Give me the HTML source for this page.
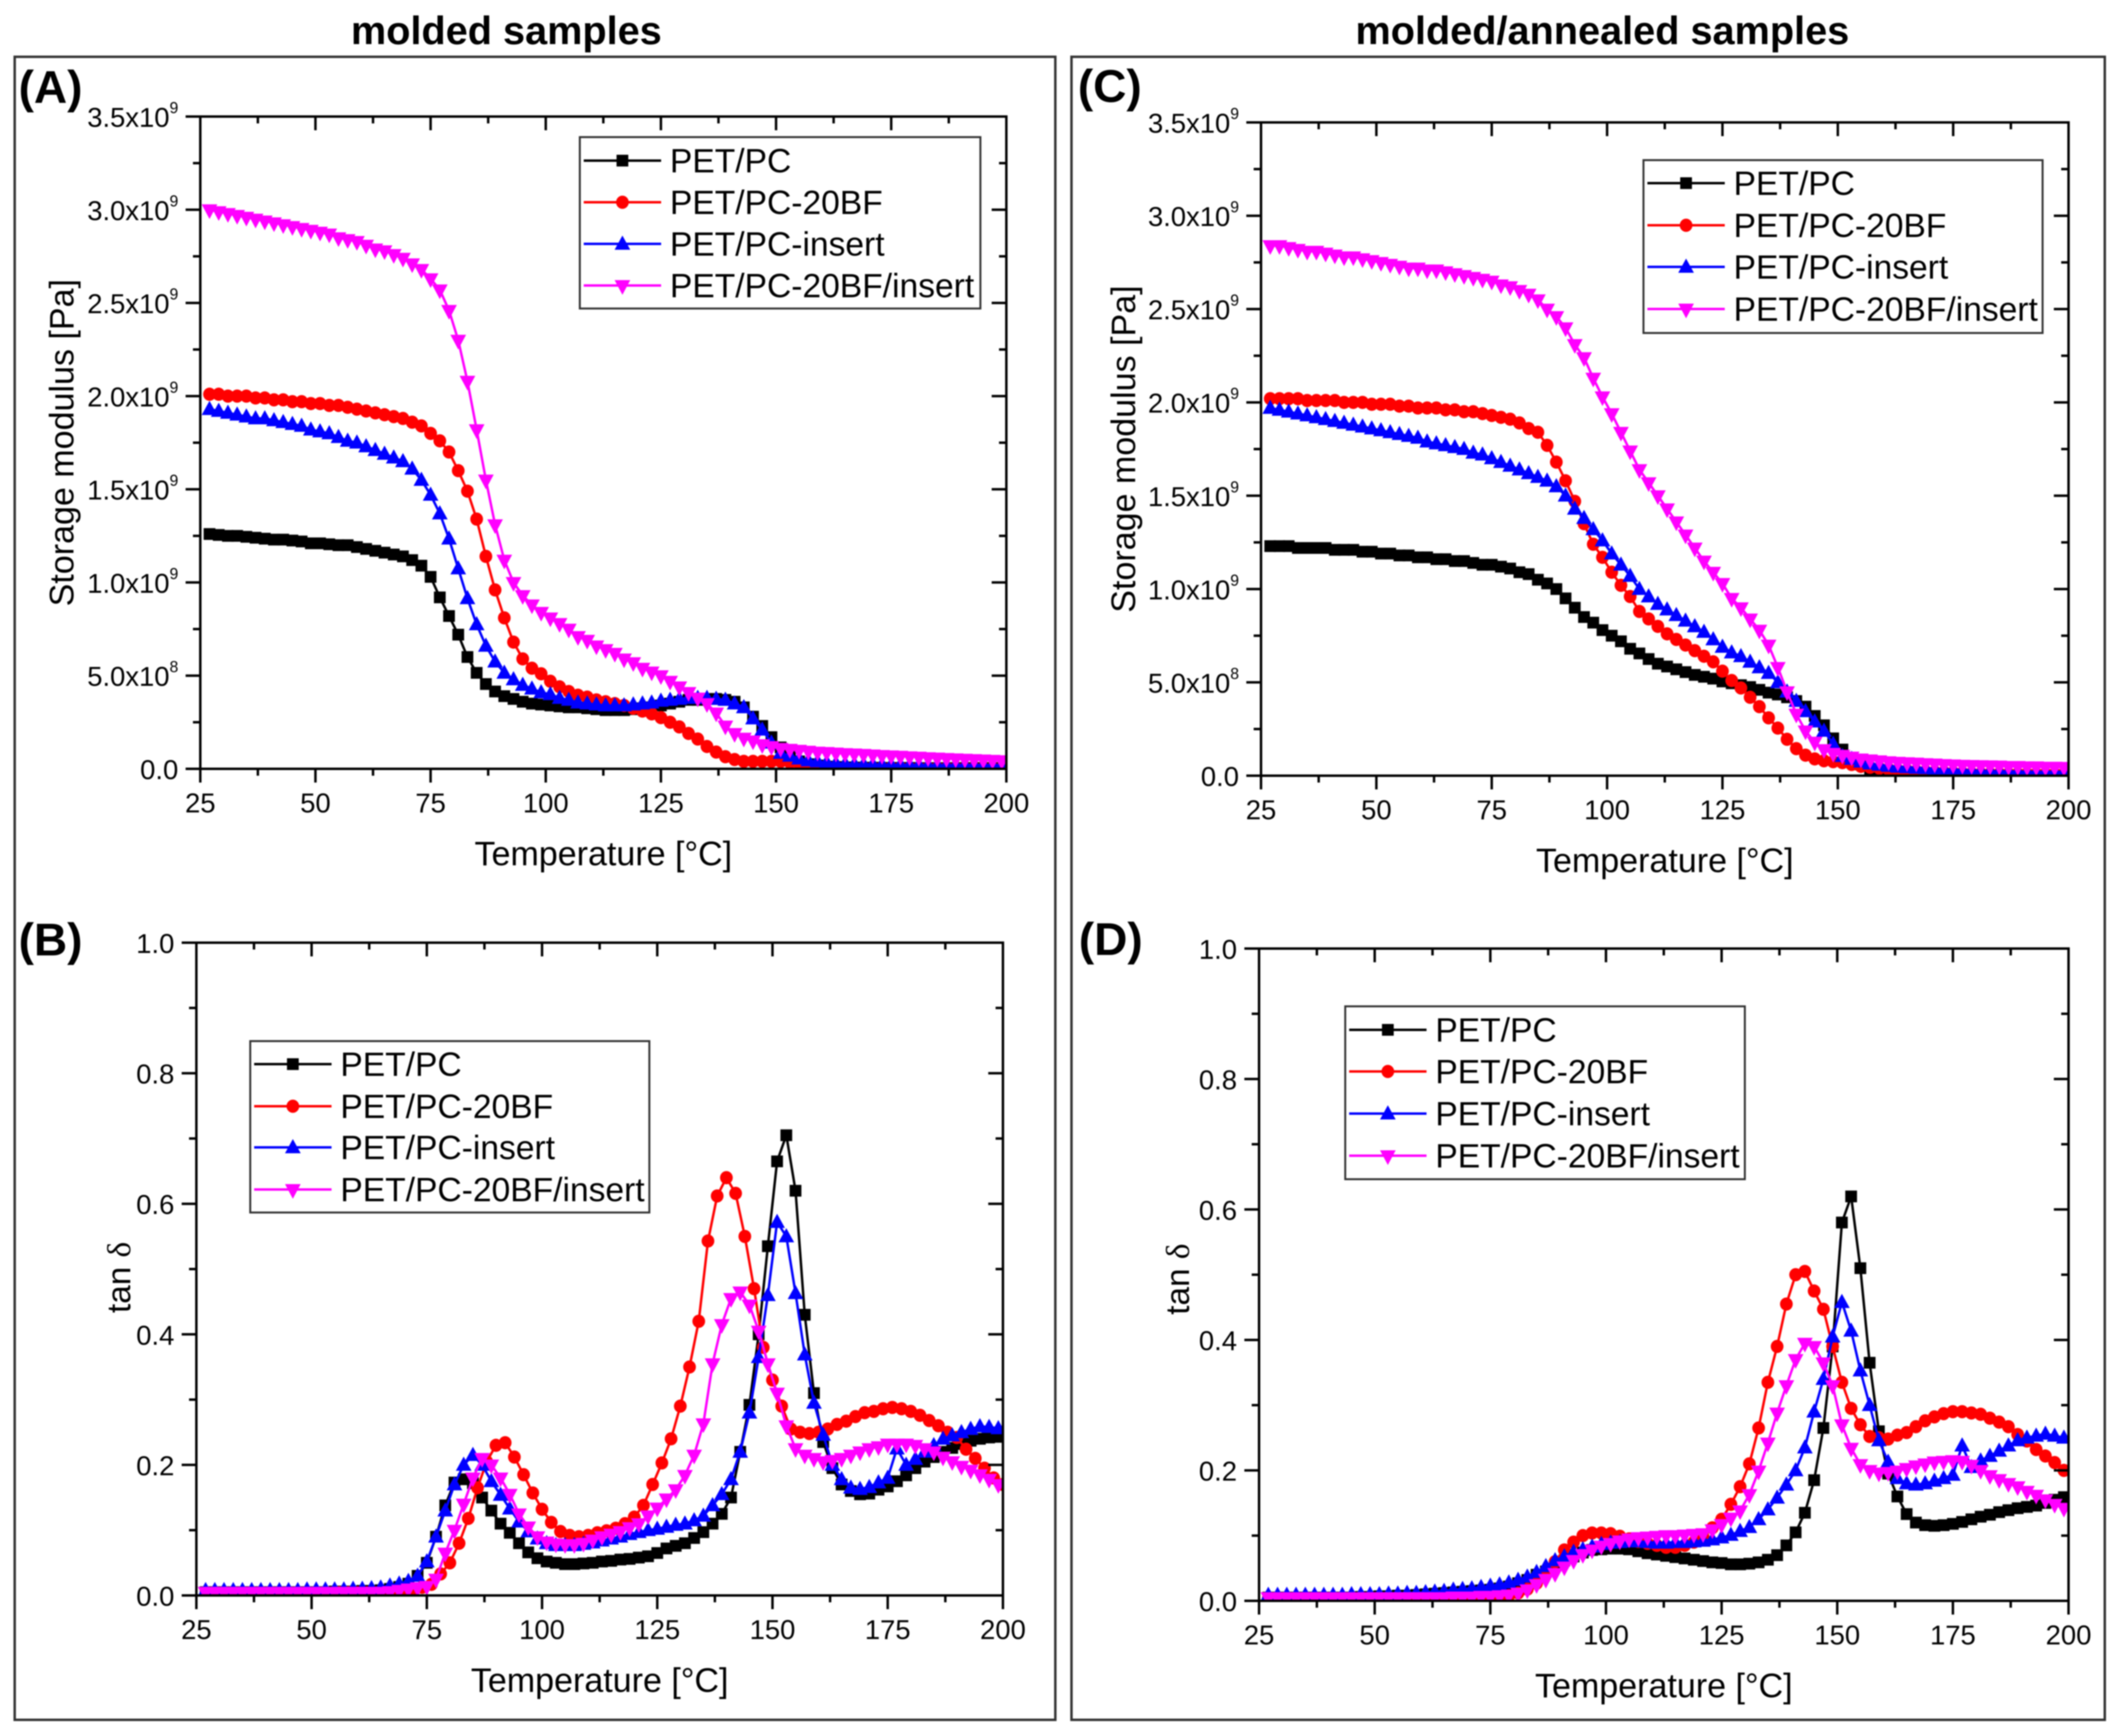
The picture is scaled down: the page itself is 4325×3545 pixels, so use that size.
<!DOCTYPE html>
<html lang="en">
<head>
<meta charset="utf-8">
<title>Storage modulus and tan delta of molded and molded/annealed samples</title>
<style>
html,body{margin:0;padding:0;background:#fff}
svg{display:block;font-family:"Liberation Sans",Arial,sans-serif;filter:blur(1.2px)}
</style>
</head>
<body>
<svg id="figure" xmlns="http://www.w3.org/2000/svg" width="4325" height="3545" viewBox="0 0 4325 3545">
<rect x="0" y="0" width="4325" height="3545" fill="#ffffff"/>
<rect x="30" y="116" width="2125" height="3396" fill="none" stroke="#333" stroke-width="5"/>
<rect x="2188" y="116" width="2110" height="3396" fill="none" stroke="#333" stroke-width="5"/>
<text x="1034" y="90" text-anchor="middle" font-size="81" font-weight="bold">molded samples</text>
<text x="3272" y="90" text-anchor="middle" font-size="81" font-weight="bold">molded/annealed samples</text>
<text x="38" y="210" font-size="94" font-weight="bold">(A)</text>
<text x="38" y="1951" font-size="94" font-weight="bold">(B)</text>
<text x="2201" y="208" font-size="94" font-weight="bold">(C)</text>
<text x="2203" y="1950" font-size="94" font-weight="bold">(D)</text>
<g id="charts"></g>
</svg>
<script>
const temperatures = [
27,29,31,33,35,37,39,41,43,45,
47,49,51,53,55,57,59,61,63,65,
67,69,71,73,75,77,79,81,83,85,
87,89,91,93,95,97,99,101,103,105,
107,109,111,113,115,117,119,121,123,125,
127,129,131,133,135,137,139,141,143,145,
147,149,151,153,155,157,159,161,163,165,
167,169,171,173,175,177,179,181,183,185,
187,189,191,193,195,197,199];

const temperaturesEven = [
28,30,32,34,36,38,40,42,44,46,
48,50,52,54,56,58,60,62,64,66,
68,70,72,74,76,78,80,82,84,86,
88,90,92,94,96,98,100,102,104,106,
108,110,112,114,116,118,120,122,124,126,
128,130,132,134,136,138,140,142,144,146,
148,150,152,154,156,158,160,162,164,166,
168,170,172,174,176,178,180,182,184,186,
188,190,192,194,196,198,200];

const seriesNames = ['PET/PC','PET/PC-20BF','PET/PC-insert','PET/PC-20BF/insert'];

/* Panel A: storage modulus, molded, in units of 1e9 Pa */
const aBlack = [
1.26,1.255,1.25,1.25,1.245,1.24,1.235,1.23,1.23,1.225,
1.22,1.21,1.21,1.205,1.20,1.20,1.19,1.18,1.17,1.16,
1.15,1.14,1.12,1.09,1.03,.92,.82,.72,.60,.515,
.455,.415,.39,.375,.36,.35,.345,.34,.335,.33,
.33,.325,.32,.315,.315,.315,.32,.325,.33,.34,
.35,.36,.37,.37,.375,.375,.37,.36,.33,.28,
.23,.17,.115,.07,.04,.025,.018,.012,.01,.008,
.007,.006,.006,.005,.005,.005,.005,.004,.004,.004,
.004,.004,.004,.004,.004,.004,.004];
const aRed = [
2.01,2.01,2.00,2.00,2.00,1.99,1.99,1.98,1.98,1.97,
1.97,1.96,1.96,1.95,1.95,1.94,1.93,1.92,1.91,1.90,
1.89,1.88,1.86,1.84,1.80,1.76,1.70,1.60,1.49,1.34,
1.14,.96,.81,.68,.59,.54,.51,.47,.44,.415,
.395,.385,.37,.36,.35,.34,.325,.31,.295,.275,
.25,.225,.19,.16,.12,.09,.065,.05,.04,.04,
.04,.04,.04,.035,.03,.02,.015,.012,.01,.008,
.006,.006,.005,.005,.005,.005,.004,.004,.004,.004,
.004,.004,.003,.003,.003,.003,.003];
const aBlue = [
1.93,1.92,1.91,1.90,1.89,1.88,1.88,1.87,1.86,1.85,
1.84,1.82,1.81,1.80,1.78,1.76,1.75,1.73,1.71,1.69,
1.67,1.65,1.61,1.55,1.47,1.37,1.235,1.075,.915,.775,
.66,.575,.515,.48,.45,.43,.41,.40,.38,.37,
.355,.35,.345,.34,.34,.34,.345,.35,.355,.365,
.37,.375,.38,.38,.38,.375,.37,.35,.33,.27,
.21,.14,.085,.07,.055,.045,.04,.035,.03,.028,
.026,.025,.024,.023,.022,.022,.021,.021,.02,.02,
.02,.02,.02,.02,.02,.02,.02];
const aMagenta = [
3.00,2.99,2.98,2.97,2.96,2.95,2.94,2.93,2.92,2.91,
2.90,2.89,2.88,2.87,2.85,2.84,2.83,2.81,2.79,2.78,
2.76,2.74,2.71,2.68,2.63,2.57,2.46,2.30,2.08,1.82,
1.55,1.31,1.12,1.00,.93,.88,.84,.81,.78,.75,
.71,.69,.66,.64,.62,.59,.57,.54,.52,.50,
.47,.44,.41,.38,.35,.30,.23,.19,.165,.15,
.13,.12,.11,.105,.10,.095,.09,.088,.085,.082,
.08,.078,.075,.072,.07,.068,.065,.063,.06,.058,
.056,.054,.052,.05,.048,.046,.044];

/* Panel B: tan delta, molded */
const bBlack = [
.005,.005,.005,.005,.005,.005,.005,.005,.005,.005,
.005,.005,.005,.005,.006,.006,.006,.007,.007,.008,
.01,.013,.018,.03,.05,.09,.138,.173,.178,.172,
.15,.13,.11,.096,.08,.066,.057,.052,.05,.048,
.048,.049,.05,.052,.053,.055,.056,.058,.06,.065,
.072,.076,.08,.088,.097,.11,.125,.15,.22,.292,
.40,.535,.665,.705,.62,.43,.31,.235,.195,.17,
.16,.155,.156,.162,.167,.175,.184,.195,.205,.212,
.22,.226,.232,.237,.24,.242,.243];
const bRed = [
.003,.003,.003,.003,.003,.003,.003,.003,.003,.003,
.003,.003,.003,.003,.004,.004,.004,.004,.004,.004,
.005,.007,.01,.0125,.017,.033,.05,.08,.118,.165,
.205,.23,.234,.212,.185,.157,.132,.112,.098,.092,
.09,.092,.096,.099,.103,.11,.12,.138,.17,.203,
.24,.29,.35,.42,.543,.612,.64,.616,.55,.47,
.38,.33,.29,.255,.25,.248,.25,.255,.262,.267,
.274,.28,.282,.286,.288,.286,.282,.276,.268,.26,
.25,.242,.224,.21,.195,.18,.17];
const bBlue = [
.008,.008,.008,.008,.008,.008,.008,.008,.008,.008,
.008,.009,.009,.009,.009,.009,.01,.01,.011,.012,
.015,.018,.022,.03,.052,.09,.13,.17,.20,.215,
.20,.175,.154,.133,.113,.098,.087,.08,.077,.077,
.077,.079,.081,.084,.087,.09,.094,.097,.10,.102,
.105,.108,.11,.115,.122,.138,.155,.178,.22,.28,
.365,.46,.572,.55,.463,.369,.295,.246,.20,.178,
.165,.163,.166,.173,.18,.225,.20,.209,.22,.23,
.24,.245,.25,.255,.259,.258,.256];
const bMagenta = [
.005,.005,.005,.005,.005,.005,.005,.005,.005,.005,
.005,.005,.005,.005,.005,.005,.005,.005,.005,.005,
.006,.008,.01,.012,.014,.025,.065,.10,.14,.18,
.21,.20,.18,.155,.125,.105,.09,.082,.079,.078,
.078,.08,.085,.09,.094,.098,.104,.11,.122,.134,
.148,.162,.184,.215,.263,.355,.415,.455,.465,.445,
.405,.355,.31,.26,.225,.215,.21,.205,.207,.21,
.215,.22,.225,.228,.232,.232,.232,.23,.225,.22,
.212,.205,.198,.192,.185,.178,.17];

/* Panel C: storage modulus, molded/annealed, in units of 1e9 Pa */
const cBlack = [
1.23,1.23,1.23,1.22,1.22,1.22,1.22,1.21,1.21,1.21,
1.20,1.20,1.19,1.19,1.18,1.18,1.17,1.17,1.16,1.16,
1.15,1.15,1.14,1.13,1.13,1.12,1.11,1.09,1.08,1.05,
1.03,1.00,.95,.90,.85,.82,.78,.75,.72,.68,
.655,.625,.60,.585,.57,.555,.54,.53,.52,.505,
.495,.485,.475,.46,.445,.435,.42,.40,.37,.32,
.27,.20,.14,.09,.06,.03,.02,.015,.012,.01,
.008,.007,.006,.005,.005,.004,.004,.004,.003,.003,
.003,.003,.003,.003,.003,.003,.003];
const cRed = [
2.02,2.02,2.02,2.02,2.01,2.01,2.01,2.01,2.00,2.00,
2.00,1.99,1.99,1.99,1.98,1.98,1.97,1.97,1.97,1.96,
1.96,1.95,1.95,1.94,1.93,1.92,1.91,1.89,1.86,1.84,
1.77,1.68,1.58,1.47,1.35,1.24,1.17,1.09,1.02,.96,
.88,.84,.80,.76,.73,.70,.67,.64,.61,.56,
.51,.47,.42,.37,.31,.255,.195,.145,.11,.09,
.08,.075,.07,.06,.05,.045,.04,.035,.03,.028,
.025,.022,.02,.018,.016,.014,.012,.011,.01,.01,
.009,.009,.009,.008,.008,.008,.008];
const cBlue = [
1.97,1.96,1.95,1.94,1.93,1.92,1.91,1.90,1.89,1.88,
1.87,1.86,1.85,1.84,1.83,1.82,1.81,1.79,1.78,1.77,
1.76,1.75,1.73,1.72,1.70,1.68,1.66,1.64,1.62,1.60,
1.58,1.55,1.50,1.43,1.38,1.32,1.26,1.19,1.13,1.07,
1.00,.96,.92,.89,.86,.83,.80,.77,.73,.69,
.66,.64,.61,.58,.55,.50,.45,.40,.345,.29,
.24,.17,.105,.09,.075,.065,.058,.052,.048,.045,
.042,.04,.036,.034,.032,.03,.028,.026,.025,.024,
.023,.022,.021,.02,.02,.02,.02];
const cMagenta = [
2.84,2.84,2.83,2.82,2.81,2.81,2.80,2.79,2.78,2.78,
2.77,2.76,2.75,2.74,2.73,2.72,2.72,2.71,2.71,2.70,
2.69,2.68,2.67,2.66,2.65,2.63,2.62,2.60,2.58,2.55,
2.50,2.46,2.40,2.31,2.24,2.13,2.03,1.94,1.84,1.74,
1.64,1.57,1.50,1.43,1.36,1.29,1.22,1.15,1.09,1.03,
.95,.90,.84,.78,.70,.58,.45,.33,.24,.18,
.14,.12,.11,.10,.09,.085,.08,.075,.072,.07,
.068,.065,.063,.06,.058,.056,.055,.054,.053,.052,
.05,.05,.048,.048,.046,.046,.045];

/* Panel D: tan delta, molded/annealed */
const dBlack = [
.005,.005,.005,.005,.005,.005,.005,.005,.005,.005,
.006,.006,.007,.007,.008,.008,.009,.01,.011,.012,
.013,.014,.015,.016,.017,.019,.022,.027,.032,.04,
.045,.054,.062,.068,.074,.078,.079,.08,.08,.079,
.076,.073,.071,.069,.067,.065,.063,.061,.059,.058,
.056,.056,.057,.059,.063,.07,.085,.105,.135,.185,
.265,.39,.58,.62,.51,.365,.26,.195,.16,.133,
.12,.116,.115,.116,.118,.121,.125,.129,.132,.136,
.139,.142,.144,.146,.15,.155,.159];
const dRed = [
.004,.004,.004,.004,.004,.004,.004,.004,.004,.004,
.004,.004,.004,.004,.004,.004,.004,.004,.004,.004,
.004,.004,.005,.005,.005,.006,.008,.012,.018,.027,
.042,.06,.078,.09,.10,.104,.104,.103,.099,.095,
.091,.088,.085,.082,.082,.085,.09,.098,.112,.125,
.148,.175,.21,.265,.335,.39,.455,.50,.505,.475,
.447,.39,.335,.295,.27,.252,.25,.248,.254,.258,
.267,.276,.282,.287,.29,.29,.288,.286,.28,.274,
.267,.255,.245,.232,.222,.212,.20];
const dBlue = [
.009,.009,.009,.009,.009,.009,.009,.009,.009,.01,
.01,.01,.01,.011,.011,.012,.012,.013,.014,.015,
.017,.018,.019,.021,.023,.025,.028,.032,.037,.044,
.053,.062,.068,.075,.079,.083,.087,.089,.09,.091,
.091,.09,.089,.089,.09,.09,.091,.092,.094,.097,
.101,.107,.113,.125,.14,.158,.178,.20,.235,.29,
.34,.405,.458,.414,.353,.30,.246,.213,.188,.18,
.178,.18,.184,.188,.193,.238,.205,.215,.222,.23,
.238,.246,.25,.253,.256,.253,.25];
const dMagenta = [
.005,.005,.005,.005,.005,.005,.005,.005,.005,.005,
.005,.005,.005,.005,.005,.005,.005,.005,.005,.005,
.006,.006,.006,.007,.007,.008,.009,.012,.017,.025,
.033,.042,.052,.062,.071,.078,.084,.088,.092,.095,
.097,.098,.099,.10,.10,.101,.102,.103,.109,.117,
.127,.138,.163,.199,.242,.288,.33,.37,.395,.39,
.365,.33,.27,.234,.209,.20,.196,.197,.199,.203,
.207,.21,.213,.214,.215,.214,.208,.20,.192,.186,
.18,.175,.168,.162,.155,.148,.142];

/* Axis ticks */
const xMajorTicks = [25,50,75,100,125,150,175,200];
const xMinorTicks = [37.5,62.5,87.5,112.5,137.5,162.5,187.5];
const storageMajorTicks = [0,0.5,1,1.5,2,2.5,3,3.5];
const storageMinorTicks = [0.25,0.75,1.25,1.75,2.25,2.75,3.25];
const storageTickText = ['0.0','5.0x10','1.0x10','1.5x10','2.0x10','2.5x10','3.0x10','3.5x10'];
const storageTickPower = ['','8','9','9','9','9','9','9'];
const tanMajorTicks = [0,0.2,0.4,0.6,0.8,1];
const tanMinorTicks = [0.1,0.3,0.5,0.7,0.9];
const tanTickText = ['0.0','0.2','0.4','0.6','0.8','1.0'];
const tanTickPower = ['','','','','',''];

const NS = 'http://www.w3.org/2000/svg';
const chartsRoot = document.getElementById('charts');
const seriesColors = ['#000000','#ff0000','#0000ff','#ff00ff'];
const seriesSlugs = ['pet-pc','pet-pc-20bf','pet-pc-insert','pet-pc-20bf-insert'];

function make(tag, attrs, parent) {
  const el = document.createElementNS(NS, tag);
  for (const k in attrs) el.setAttribute(k, attrs[k]);
  parent.appendChild(el);
  return el;
}

function drawMarker(kind, cx, cy, color, parent, slug) {
  let el;
  if (kind === 0) {
    el = make('rect', {x: cx - 12, y: cy - 12, width: 24, height: 24, fill: color}, parent);
  } else if (kind === 1) {
    el = make('ellipse', {cx: cx, cy: cy, rx: 13, ry: 13.5, fill: color}, parent);
  } else if (kind === 2) {
    el = make('polygon', {points: (cx) + ',' + (cy - 17) + ' ' + (cx + 16) + ',' + (cy + 12) + ' ' + (cx - 16) + ',' + (cy + 12), fill: color}, parent);
  } else {
    el = make('polygon', {points: (cx - 16) + ',' + (cy - 11) + ' ' + (cx + 16) + ',' + (cy - 11) + ' ' + (cx) + ',' + (cy + 19), fill: color}, parent);
  }
  
  
  return el;
}

function drawPanel(p) {
  const g = make('g', {}, chartsRoot);
  
  
  const xScale = t => p.x0 + (t - 25) * (p.x1 - p.x0) / 175;
  const yScale = v => p.yb - v * (p.yb - p.yt) / p.yMax;

  const clipId = 'clip-' + p.id;
  const defs = make('defs', {}, g);
  const cp = make('clipPath', {id: clipId}, defs);
  make('rect', {x: p.x0, y: p.yt, width: p.x1 - p.x0, height: p.yb - p.yt}, cp);

  const plot = make('g', {'clip-path': 'url(#' + clipId + ')'}, g);
  
  
  p.series.forEach((vals, i) => {
    const temps = p.seriesTemps[i];
    const sg = make('g', {}, plot);
    
    
    const pts = vals.map((v, j) => xScale(temps[j]).toFixed(1) + ',' + yScale(v).toFixed(1)).join(' ');
    const line = make('polyline', {points: pts, fill: 'none', stroke: seriesColors[i], 'stroke-width': 5, 'stroke-linejoin': 'round'}, sg);
    
    
    vals.forEach((v, j) => {
      drawMarker(i, xScale(temps[j]), yScale(v), seriesColors[i], sg, seriesSlugs[i]);
    });
  });

  const axes = make('g', {stroke: '#000', 'stroke-width': 5, fill: 'none'}, g);
  
  
  const box = make('rect', {x: p.x0, y: p.yt, width: p.x1 - p.x0, height: p.yb - p.yt}, axes);
  
  

  function xTick(t, len) {
    const x = xScale(t);
    make('line', {x1: x, x2: x, y1: p.yb, y2: p.yb + len}, axes);
    make('line', {x1: x, x2: x, y1: p.yt, y2: p.yt + len}, axes);
  }
  function yTick(v, len) {
    const y = yScale(v);
    make('line', {x1: p.x0, x2: p.x0 - len, y1: y, y2: y}, axes);
    make('line', {x1: p.x1, x2: p.x1 - len, y1: y, y2: y}, axes);
  }
  xMajorTicks.forEach(t => xTick(t, 28));
  xMinorTicks.forEach(t => xTick(t, 14));
  p.yMajor.forEach(v => yTick(v, 30));
  p.yMinor.forEach(v => yTick(v, 15));

  xMajorTicks.forEach(t => {
    const tx = make('text', {x: xScale(t), y: p.yb + 89, 'text-anchor': 'middle', 'font-size': 56, fill: '#000'}, g);
    tx.textContent = String(t);
    
    
  });
  p.yMajor.forEach((v, i) => {
    const tx = make('text', {x: p.x0 - 45, y: yScale(v) + 21, 'text-anchor': 'end', 'font-size': 56, fill: '#000'}, g);
    const base = make('tspan', {}, tx);
    base.textContent = p.yText[i];
    if (p.yPower[i]) {
      const sup = make('tspan', {dy: -28, 'font-size': 32}, tx);
      sup.textContent = p.yPower[i];
    }
    
    
  });

  const xt = make('text', {x: (p.x0 + p.x1) / 2, y: p.yb + 197, 'text-anchor': 'middle', 'font-size': 69.5, fill: '#000'}, g);
  xt.textContent = 'Temperature [°C]';
  
  

  const yc = (p.yt + p.yb) / 2 + p.yTitleShift;
  const yTitle = make('text', {x: p.yLabelX, y: yc, transform: 'rotate(-90 ' + p.yLabelX + ' ' + yc + ')', 'text-anchor': 'middle', 'font-size': p.yTitleSize, fill: '#000'}, g);
  if (p.tan) {
    const t1 = make('tspan', {}, yTitle);
    t1.textContent = 'tan ';
    const t2 = make('tspan', {'font-family': '"Liberation Serif","DejaVu Serif",serif'}, yTitle);
    t2.textContent = 'δ';
  } else {
    yTitle.textContent = 'Storage modulus [Pa]';
  }
  
  

  const lg = make('g', {}, g);
  
  
  const l = p.legend;
  make('rect', {x: l.x, y: l.y, width: l.w, height: l.h, fill: '#fff', stroke: '#333', 'stroke-width': 4}, lg);
  seriesNames.forEach((name, i) => {
    const ry = l.rows[i];
    const entry = make('g', {}, lg);
    
    
    make('line', {x1: l.x + 8, x2: l.x + 166, y1: ry, y2: ry, stroke: seriesColors[i], 'stroke-width': 5}, entry);
    drawMarker(i, l.x + 87, ry, seriesColors[i], entry, 'legend-' + seriesSlugs[i]);
    const tx = make('text', {x: l.x + 184, y: ry + 24, 'font-size': 68.6, fill: '#000'}, entry);
    tx.textContent = name;
  });
}

drawPanel({id: 'a', x0: 409, x1: 2055, yt: 238, yb: 1570, yMax: 3.5,
  series: [aBlack, aRed, aBlue, aMagenta],
  seriesTemps: [temperatures, temperatures, temperatures, temperatures],
  yMajor: storageMajorTicks, yMinor: storageMinorTicks,
  yText: storageTickText, yPower: storageTickPower, yLabelX: 150, yTitleSize: 69.5, yTitleShift: 0, tan: false,
  legend: {x: 1184, y: 280, w: 818, h: 350, rows: [328, 413, 498, 583]}});
drawPanel({id: 'b', x0: 401, x1: 2048, yt: 1925, yb: 3258, yMax: 1,
  series: [bBlack, bRed, bBlue, bMagenta],
  seriesTemps: [temperatures, temperaturesEven, temperatures, temperatures],
  yMajor: tanMajorTicks, yMinor: tanMinorTicks,
  yText: tanTickText, yPower: tanTickPower, yLabelX: 266, yTitleSize: 68, yTitleShift: 17, tan: true,
  legend: {x: 511, y: 2126, w: 815, h: 350, rows: [2173, 2259, 2343, 2429]}});
drawPanel({id: 'c', x0: 2575, x1: 4224, yt: 250, yb: 1584, yMax: 3.5,
  series: [cBlack, cRed, cBlue, cMagenta],
  seriesTemps: [temperatures, temperatures, temperatures, temperatures],
  yMajor: storageMajorTicks, yMinor: storageMinorTicks,
  yText: storageTickText, yPower: storageTickPower, yLabelX: 2318, yTitleSize: 69.5, yTitleShift: 0, tan: false,
  legend: {x: 3356, y: 327, w: 815, h: 353, rows: [374, 460, 545, 631]}});
drawPanel({id: 'd', x0: 2571, x1: 4224, yt: 1937, yb: 3269, yMax: 1,
  series: [dBlack, dRed, dBlue, dMagenta],
  seriesTemps: [temperatures, temperatures, temperatures, temperatures],
  yMajor: tanMajorTicks, yMinor: tanMinorTicks,
  yText: tanTickText, yPower: tanTickPower, yLabelX: 2428, yTitleSize: 68, yTitleShift: 9, tan: true,
  legend: {x: 2747, y: 2055, w: 816, h: 353, rows: [2103, 2188, 2274, 2360]}});
</script>
</body>
</html>
